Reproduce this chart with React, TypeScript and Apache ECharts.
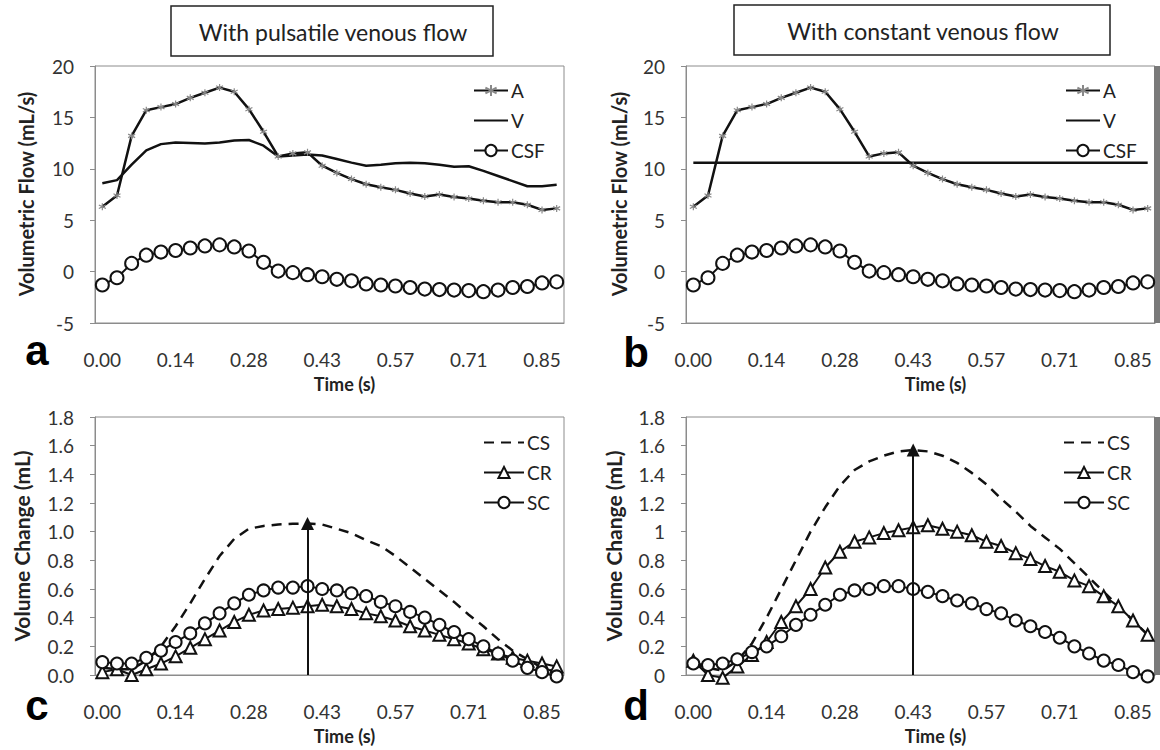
import React, { useEffect, useRef } from "react";
import * as echarts from "echarts";

// ---------- data ----------
const timeLabels = [
  "0.00", "0.03", "0.06", "0.09", "0.11", "0.14", "0.17", "0.20", "0.23", "0.26",
  "0.28", "0.31", "0.34", "0.37", "0.40", "0.43", "0.45", "0.48", "0.51", "0.54",
  "0.57", "0.60", "0.62", "0.65", "0.68", "0.71", "0.74", "0.77", "0.79", "0.82",
  "0.85", "0.88",
];

const flowA = [
  6.3, 7.4, 13.2, 15.7, 16.0, 16.3, 16.9, 17.4, 17.9, 17.5,
  15.8, 13.6, 11.2, 11.5, 11.6, 10.3, 9.6, 9.0, 8.5, 8.2,
  7.95, 7.6, 7.3, 7.5, 7.25, 7.1, 6.9, 6.75, 6.75, 6.5,
  6.0, 6.15,
];
const flowVPulsatile = [
  8.6, 8.9, 10.4, 11.8, 12.4, 12.55, 12.5, 12.45, 12.55, 12.75,
  12.8, 12.25, 11.2, 11.3, 11.4, 11.3, 10.95, 10.6, 10.3, 10.4,
  10.55, 10.6, 10.55, 10.4, 10.2, 10.25, 9.8, 9.3, 8.8, 8.3,
  8.3, 8.45,
];
const flowVConstant = [
  10.6, 10.6, 10.6, 10.6, 10.6, 10.6, 10.6, 10.6, 10.6, 10.6,
  10.6, 10.6, 10.6, 10.6, 10.6, 10.6, 10.6, 10.6, 10.6, 10.6,
  10.6, 10.6, 10.6, 10.6, 10.6, 10.6, 10.6, 10.6, 10.6, 10.6,
  10.6, 10.6,
];
const flowCSF = [
  -1.3, -0.6, 0.8, 1.6, 1.9, 2.05, 2.3, 2.5, 2.6, 2.4,
  2.0, 0.9, 0.05, -0.1, -0.3, -0.5, -0.75, -0.9, -1.2, -1.3,
  -1.4, -1.55, -1.7, -1.75, -1.8, -1.85, -1.95, -1.8, -1.55, -1.45,
  -1.1, -1.0,
];

const volCSPulsatile = [
  0.05, 0.04, 0.04, 0.1, 0.2, 0.34, 0.5, 0.67, 0.83, 0.95,
  1.02, 1.04, 1.05, 1.055, 1.057, 1.05, 1.02, 0.99, 0.94, 0.9,
  0.83, 0.75, 0.67, 0.59, 0.51, 0.42, 0.34, 0.25, 0.17, 0.11,
  0.05, 0.02,
];
const volCRPulsatile = [
  0.02, 0.04, 0.0, 0.04, 0.08, 0.13, 0.19, 0.25, 0.31, 0.37,
  0.42, 0.45, 0.46, 0.47, 0.48, 0.49, 0.48, 0.46, 0.43, 0.41,
  0.38, 0.34, 0.31, 0.28, 0.25, 0.22, 0.18, 0.15, 0.12, 0.1,
  0.08, 0.06,
];
const volSCPulsatile = [
  0.09, 0.08, 0.08, 0.12, 0.17, 0.23, 0.29, 0.36, 0.43, 0.5,
  0.56, 0.59, 0.61, 0.61, 0.62, 0.6, 0.59, 0.57, 0.55, 0.51,
  0.48, 0.44, 0.4, 0.35, 0.3, 0.25, 0.2, 0.15, 0.1, 0.05,
  0.02, -0.01,
];

const volCSConstant = [
  0.08, 0.05, 0.03, 0.1, 0.22, 0.4, 0.6, 0.8, 1.0, 1.17,
  1.32, 1.43, 1.49, 1.53, 1.56, 1.57, 1.56, 1.53, 1.48, 1.41,
  1.33, 1.23, 1.14, 1.04, 0.96, 0.88, 0.78, 0.68, 0.58, 0.48,
  0.38, 0.28,
];
const volCRConstant = [
  0.1, 0.0, -0.02, 0.06, 0.14, 0.23, 0.37, 0.48, 0.6, 0.75,
  0.86, 0.93, 0.96, 0.99, 1.01, 1.03, 1.045, 1.02, 1.0, 0.975,
  0.93, 0.9, 0.85, 0.81, 0.76, 0.72, 0.66, 0.62, 0.55, 0.48,
  0.38, 0.28,
];
const volSCConstant = [
  0.08, 0.07, 0.08, 0.11, 0.16, 0.2, 0.27, 0.35, 0.42, 0.49,
  0.56, 0.59, 0.6, 0.62, 0.62, 0.6, 0.58, 0.55, 0.52, 0.5,
  0.46, 0.43, 0.38, 0.34, 0.3, 0.26, 0.2, 0.15, 0.1, 0.07,
  0.02, -0.01,
];

const panelTitles = ["With pulsatile venous flow", "With constant venous flow"];
const panelLetters = ["a", "b", "c", "d"];
const flowAxisTitle = "Volumetric Flow (mL/s)";
const volumeAxisTitle = "Volume Change (mL)";
const timeAxisTitle = "Time (s)";
const arrowIndexC = 14;
const arrowIndexD = 15;

// ---------- styling ----------
const FONT = "Lato, 'Open Sans', sans-serif";
const LETTER_FONT = "'Liberation Sans', Arial, sans-serif";
const AXIS_GRAY = "#8c8c8c";
const TEXT = "#333";
const INK = "#111";
const STAR = "path://M5 0L5 10M0.67 2.5L9.33 7.5M0.67 7.5L9.33 2.5";

const grids = [
  { left: 95, top: 66, width: 469, height: 257 },
  { left: 686, top: 66, width: 469, height: 257 },
  { left: 95, top: 417, width: 469, height: 258 },
  { left: 686, top: 417, width: 469, height: 258 },
];

function xAxisFor(i: number) {
  return {
    gridIndex: i,
    type: "category",
    data: timeLabels,
    boundaryGap: true,
    axisLine: { onZero: false, lineStyle: { color: AXIS_GRAY, width: 1 } },
    axisTick: { interval: 4, inside: true, length: 6, lineStyle: { color: AXIS_GRAY } },
    axisLabel: { interval: 4, fontSize: 19, color: TEXT, fontFamily: FONT, margin: 27 },
    splitLine: { show: false },
    name: timeAxisTitle,
    nameLocation: "middle",
    nameGap: 52,
    nameTextStyle: {
      fontSize: 18, fontWeight: "bold", fontFamily: FONT, color: "#222",
      padding: [0, 0, 0, 30],
    },
  };
}

function yAxisFor(i: number) {
  const flow = i < 2;
  return {
    gridIndex: i,
    type: "value",
    min: flow ? -5 : 0,
    max: flow ? 20 : 1.8,
    interval: flow ? 5 : 0.2,
    axisLine: { show: true, lineStyle: { color: AXIS_GRAY, width: 1 } },
    axisTick: { show: true, length: 5, lineStyle: { color: AXIS_GRAY } },
    axisLabel: {
      fontSize: 19, color: TEXT, fontFamily: FONT, margin: 21,
      formatter: (v: number) =>
        flow ? String(v) : i === 2 ? v.toFixed(1) : String(+v.toFixed(1)),
    },
    splitLine: { show: false },
  };
}

const emptyMarker = (w: number) => ({ color: INK, borderColor: INK, borderWidth: w });

function flowSeries(i: number, v: number[]) {
  return [
    {
      name: "A", type: "line", xAxisIndex: i, yAxisIndex: i, data: flowA,
      symbol: STAR, symbolSize: 7, showAllSymbol: true,
      itemStyle: { color: "#888", borderColor: "#888", borderWidth: 1.2 },
      lineStyle: { color: INK, width: 2.5 },
    },
    {
      name: "V", type: "line", xAxisIndex: i, yAxisIndex: i, data: v,
      symbol: "none", itemStyle: { color: INK },
      lineStyle: { color: INK, width: 2.5 },
    },
    {
      name: "CSF", type: "line", xAxisIndex: i, yAxisIndex: i, data: flowCSF,
      symbol: "emptyCircle", symbolSize: 13, showAllSymbol: true,
      itemStyle: emptyMarker(2),
      lineStyle: { color: INK, width: 2 },
    },
  ];
}

function volumeSeries(i: number, cs: number[], cr: number[], sc: number[], arrowIdx: number) {
  return [
    {
      name: "CS", type: "line", xAxisIndex: i, yAxisIndex: i, data: cs,
      symbol: "none", itemStyle: { color: INK }, clip: false,
      lineStyle: { color: INK, width: 2.5, type: [10, 7] },
      markLine: {
        silent: true,
        symbol: ["none", "triangle"],
        symbolSize: 13,
        label: { show: false },
        lineStyle: { color: INK, type: "solid", width: 2 },
        data: [[
          { coord: [timeLabels[arrowIdx], 0] },
          { coord: [timeLabels[arrowIdx], cs[arrowIdx]] },
        ]],
      },
    },
    {
      name: "CR", type: "line", xAxisIndex: i, yAxisIndex: i, data: cr,
      symbol: "emptyTriangle", symbolSize: 12, showAllSymbol: true, clip: false,
      itemStyle: emptyMarker(1.6),
      lineStyle: { color: INK, width: 2 },
    },
    {
      name: "SC", type: "line", xAxisIndex: i, yAxisIndex: i, data: sc,
      symbol: "emptyCircle", symbolSize: 12, showAllSymbol: true, clip: false,
      itemStyle: emptyMarker(1.6),
      lineStyle: { color: INK, width: 2 },
    },
  ];
}

function legendFor(left: number, top: number, names: string[], lineOnly: string, w: number) {
  return {
    data: names.map((n) => (n === lineOnly ? { name: n, itemStyle: { opacity: 0 } } : { name: n })),
    orient: "vertical",
    left, top,
    itemWidth: w,
    itemHeight: 14,
    itemGap: 11,
    selectedMode: false,
    textStyle: { fontSize: 19, fontFamily: FONT, color: "#222", padding: [0, 0, 0, -2] },
  };
}

function text(x: number, y: number, t: string, extra: any = {}) {
  return {
    type: "text", x, y, silent: true, ...extra.el,
    style: {
      text: t, fill: "#222", fontFamily: FONT, fontSize: 18,
      align: "center", verticalAlign: "middle", ...extra.style,
    },
  };
}

const axisTitleStyle = { fontWeight: "bold", fontSize: 20, fill: "#222" };
const letterStyle = { fontSize: 42, fontWeight: "bold", fontFamily: LETTER_FONT, fill: "#000" };

export default function App() {
  const ref = useRef<HTMLDivElement>(null);
  useEffect(() => {
    if (!ref.current) return;
    const chart = echarts.init(ref.current, undefined, { renderer: "svg" });
    const option: any = {
      animation: false,
      backgroundColor: "#fff",
      textStyle: { fontFamily: FONT },
      grid: grids.map((g) => ({ ...g, show: true, borderColor: AXIS_GRAY, borderWidth: 1, backgroundColor: "transparent" })),
      xAxis: [0, 1, 2, 3].map(xAxisFor),
      yAxis: [0, 1, 2, 3].map(yAxisFor),
      legend: [
        legendFor(468, 76, ["A", "V", "CSF"], "V", 34),
        legendFor(1060, 76, ["A", "V", "CSF"], "V", 34),
        legendFor(478, 428, ["CS", "CR", "SC"], "CS", 40),
        legendFor(1058, 428, ["CS", "CR", "SC"], "CS", 40),
      ],
      series: [
        ...flowSeries(0, flowVPulsatile),
        ...flowSeries(1, flowVConstant),
        ...volumeSeries(2, volCSPulsatile, volCRPulsatile, volSCPulsatile, arrowIndexC),
        ...volumeSeries(3, volCSConstant, volCRConstant, volSCConstant, arrowIndexD),
      ],
      graphic: [
        { type: "rect", shape: { x: 171, y: 6, width: 322, height: 50 }, style: { fill: "#fff", stroke: "#222", lineWidth: 1.5 } },
        { type: "rect", shape: { x: 734, y: 5, width: 376, height: 50 }, style: { fill: "#fff", stroke: "#222", lineWidth: 1.5 } },
        text(333, 32, panelTitles[0], { style: { fontSize: 23 } }),
        text(923, 31, panelTitles[1], { style: { fontSize: 23 } }),
        text(26, 194, flowAxisTitle, { el: { rotation: Math.PI / 2 }, style: axisTitleStyle }),
        text(619, 194, flowAxisTitle, { el: { rotation: Math.PI / 2 }, style: axisTitleStyle }),
        text(21, 546, volumeAxisTitle, { el: { rotation: Math.PI / 2 }, style: { ...axisTitleStyle, fontSize: 21 } }),
        text(613, 546, volumeAxisTitle, { el: { rotation: Math.PI / 2 }, style: { ...axisTitleStyle, fontSize: 21 } }),
        text(37, 350, panelLetters[0], { style: letterStyle }),
        text(636, 352, panelLetters[1], { style: letterStyle }),
        text(37, 705, panelLetters[2], { style: letterStyle }),
        text(636, 705, panelLetters[3], { style: letterStyle }),
        { type: "rect", shape: { x: 1154, y: 66, width: 6, height: 257 }, style: { fill: "#7a7a7a" } },
        { type: "rect", shape: { x: 1154, y: 417, width: 6, height: 258 }, style: { fill: "#7a7a7a" } },
      ],
    };
    chart.setOption(option);
    return () => chart.dispose();
  }, []);
  return (
    <div
      ref={ref}
      style={{ position: "absolute", left: 0, top: 0, width: 1160, height: 750, background: "#fff" }}
    />
  );
}
